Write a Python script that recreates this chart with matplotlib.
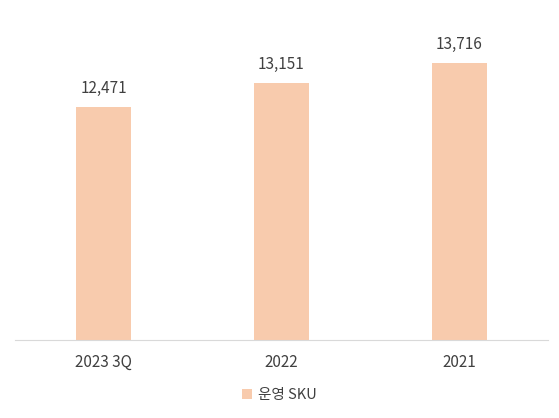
import matplotlib
matplotlib.use("Agg")
import matplotlib.pyplot as plt

plt.rcParams['font.family'] = ['Noto Sans CJK KR', 'DejaVu Sans']

categories = ["2023 3Q", "2022", "2021"]
values = [12471, 13151, 13716]
series_name = "운영 SKU"
bar_color = "#F8CBAD"
text_color = "#404040"

fig = plt.figure(figsize=(5.59, 4.18), dpi=100)
ax = fig.add_axes([0.027, 0.187, 0.953, 0.789])

x = list(range(len(categories)))
bars = ax.bar(x, values, width=0.31, color=bar_color, label=series_name)
for xi, v in zip(x, values):
    ax.text(xi, v + 300, f"{v:,}", ha="center", va="bottom", fontsize=11, color=text_color)

ax.set_xlim(-0.5, 2.5)
ax.set_ylim(5880, 15220)
ax.set_xticks(x)
ax.set_xticklabels(categories, fontsize=11, color=text_color)
ax.tick_params(axis="x", length=0, pad=10)
ax.set_yticks([])
for s in ["top", "right", "left"]:
    ax.spines[s].set_visible(False)
ax.spines["bottom"].set_color("#D9D9D9")

fig.legend(handles=[bars], labels=[series_name], loc="center", bbox_to_anchor=(0.5, 0.055),
           frameon=False, fontsize=10.5, handlelength=0.7, handleheight=0.7,
           handletextpad=0.4, labelcolor=text_color)

fig.savefig("out.png", dpi=100)
